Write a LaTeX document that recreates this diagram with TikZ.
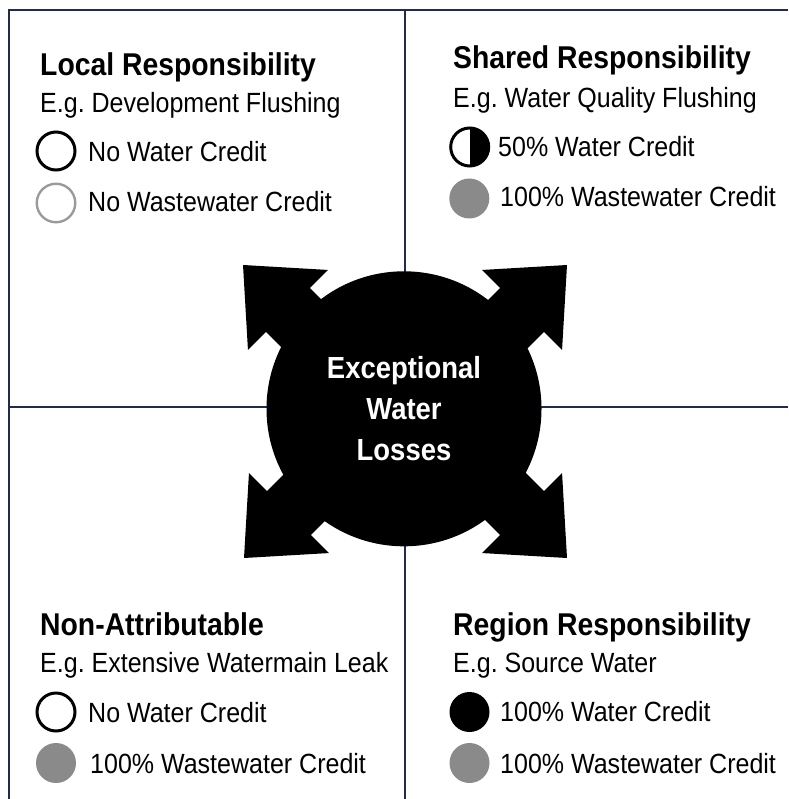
\documentclass[tikz,border=0pt]{standalone}
\usepackage{fontspec}
\setmainfont{Liberation Sans}[FakeStretch=0.9]
\usetikzlibrary{positioning}

\definecolor{gridnavy}{HTML}{222A4E}
\definecolor{creditgray}{HTML}{8A8A8A}
\definecolor{ringgray}{HTML}{9A9A9A}

\tikzset{
    gridline/.style={gridnavy, line width=2pt},
    heading/.style={anchor=base west, inner sep=0pt, font=\fontsize{31.5}{36}\selectfont\bfseries},
    caseline/.style={anchor=base west, inner sep=0pt, font=\fontsize{27.8}{32}\selectfont},
    icon/.style={circle, inner sep=0pt},
    noicon/.style={icon, minimum size=38pt, draw=black, line width=3pt},
    nowasteicon/.style={icon, minimum size=38.5pt, draw=ringgray, line width=2.4pt},
    halficon/.style={icon, minimum size=38pt, draw=black, line width=3pt,
        path picture={\fill[black] (path picture bounding box.north) rectangle (path picture bounding box.south east);}},
    fullicon/.style={icon, minimum size=40pt, fill=black},
    wasteicon/.style={icon, minimum size=40pt, fill=creditgray},
    hub/.style={circle, fill=black, minimum size=275pt, inner sep=0pt, text=white, align=center,
        font=\fontsize{30.5}{41}\selectfont\bfseries}
}

\begin{document}
\begin{tikzpicture}[x=1pt, y=-1pt]
    \useasboundingbox (0,0) rectangle (788,799);
    % Grid
    \draw[gridline] (8,10) -- (788,10);
    \draw[gridline] (9,10) -- (9,799);
    \draw[gridline] (405,10) -- (405,799);
    \draw[gridline] (9,407) -- (788,407);
    % Arrows
    \foreach \tx/\ty/\ang in {243/265/135, 567/265/45, 244/558/225, 567/558/315} {
        \fill[black, shift={(\tx,\ty)}, rotate=\ang] (0,0) -- (-63.5,56.5) -- (-63.5,31) -- (-160,31)
            -- (-160,-31) -- (-63.5,-31) -- (-63.5,-56.5) -- cycle;
    }
    % Hub
    \node[hub] (hub) at (404,408.8) {Exceptional\\Water\\Losses};
    % Local responsibility
    \node[heading] (loctitle) at (40,76) {Local Responsibility};
    \node[caseline] (locsub) at (40,113) {E.g.\ Development Flushing};
    \node[noicon] (locwicon) at (56,151) {};
    \node[caseline] (locwater) at (88,162) {No Water Credit};
    \node[nowasteicon] (locwwicon) at (56,203) {};
    \node[caseline] (locwaste) at (88,212) {No Wastewater Credit};
    % Shared responsibility
    \node[heading] (shrtitle) at (453,68.3) {Shared Responsibility};
    \node[caseline] (shrsub) at (453,108) {E.g.\ Water Quality Flushing};
    \node[halficon] (shrwicon) at (469.7,147) {};
    \node[caseline] (shrwater) at (498,157) {50\% Water Credit};
    \node[wasteicon] (shrwwicon) at (469.3,198.5) {};
    \node[caseline] (shrwaste) at (500,207) {100\% Wastewater Credit};
    % Non-attributable
    \node[heading] (nattitle) at (40,635) {Non-Attributable};
    \node[caseline] (natsub) at (40,672) {E.g.\ Extensive Watermain Leak};
    \node[noicon] (natwicon) at (56,712) {};
    \node[caseline] (natwater) at (88,722) {No Water Credit};
    \node[wasteicon] (natwwicon) at (56,763) {};
    \node[caseline] (natwaste) at (90,773) {100\% Wastewater Credit};
    % Region responsibility
    \node[heading] (regtitle) at (453,635) {Region Responsibility};
    \node[caseline] (regsub) at (453,672) {E.g.\ Source Water};
    \node[fullicon] (regwicon) at (469.5,712) {};
    \node[caseline] (regwater) at (500,721) {100\% Water Credit};
    \node[wasteicon] (regwwicon) at (469.5,763) {};
    \node[caseline] (regwaste) at (500,773) {100\% Wastewater Credit};
\end{tikzpicture}
\end{document}
